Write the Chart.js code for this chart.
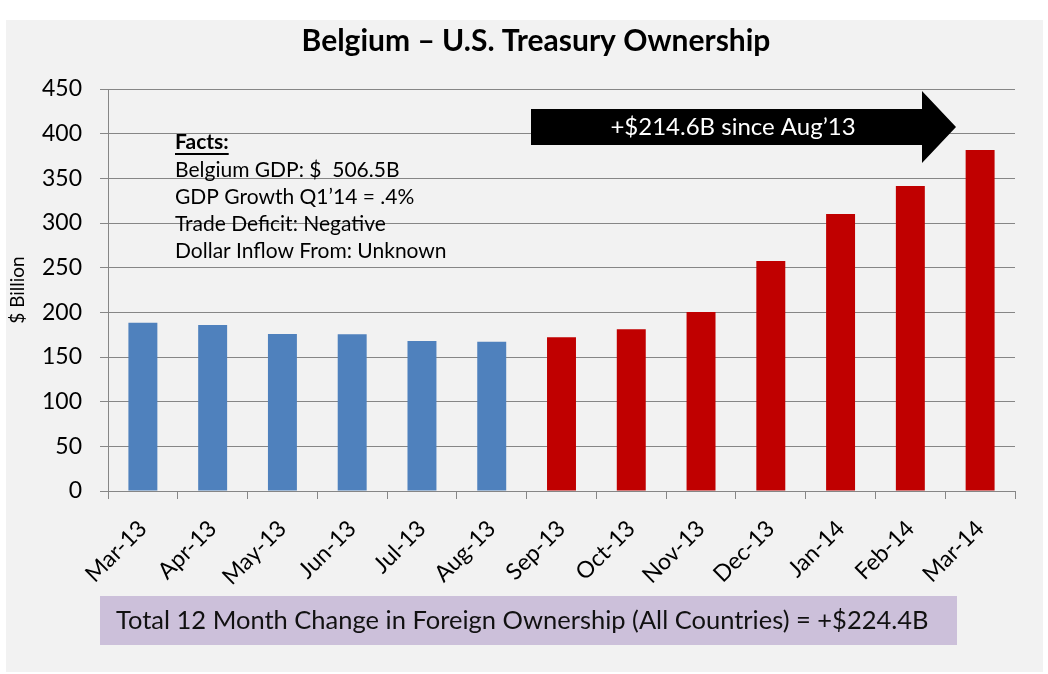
<!DOCTYPE html>
<html>
<head>
<meta charset="utf-8">
<title>Belgium – U.S. Treasury Ownership</title>
<script src="https://cdn.jsdelivr.net/npm/chart.js@4.4.1/dist/chart.umd.min.js"></script>
<style>
  html, body { margin: 0; padding: 0; background: #ffffff; }
  #wrap { position: relative; width: 1048px; height: 674px; }
</style>
</head>
<body>
<div id="wrap"><canvas id="treasuryChart"></canvas></div>
<script>
// Holdings of U.S. Treasuries by Belgium ($ Billion)
const months = ['Mar-13', 'Apr-13', 'May-13', 'Jun-13', 'Jul-13', 'Aug-13',
                'Sep-13', 'Oct-13', 'Nov-13', 'Dec-13', 'Jan-14', 'Feb-14', 'Mar-14'];
const holdings = [188.4, 185.8, 175.8, 175.6, 168.0, 167.1,
                  172.2, 181.0, 200.3, 257.5, 310.0, 341.4, 381.7];
const yTicks = [0, 50, 100, 150, 200, 250, 300, 350, 400, 450];
const baseMonth = 'Aug-13';

const titleText = 'Belgium \u2013 U.S. Treasury Ownership';
const factLines = ['Belgium GDP: $  506.5B', 'GDP Growth Q1\u201914 = .4%',
                   'Trade Deficit: Negative', 'Dollar Inflow From: Unknown'];
const arrowLabel = '+$214.6B since Aug\u201913';
const footerLabel = 'Total 12 Month Change in Foreign Ownership (All Countries) = +$224.4B';

const COLORS = {
  panel: '#f2f2f2',
  before: '#4f81bd',
  after: '#c00000',
  grid: '#868686',
  text: '#000000',
  footer: '#ccc0da'
};
const FONT = "Lato, 'Open Sans', sans-serif";

Chart.defaults.font.family = FONT;
Chart.defaults.color = COLORS.text;

var baseIndex = months.indexOf(baseMonth);

// gray slide panel behind everything
const panelPlugin = {
  id: 'panel',
  beforeDraw(chart) {
    const ctx = chart.ctx;
    ctx.save();
    ctx.fillStyle = COLORS.panel;
    ctx.fillRect(6, 20, 1037, 652);
    ctx.restore();
  }
};

// title, facts box, arrow callout and footer bar
const notesPlugin = {
  id: 'notes',
  afterDraw(chart) {
    const ctx = chart.ctx;
    ctx.save();
    ctx.textBaseline = 'middle';

    // Title
    ctx.fillStyle = COLORS.text;
    ctx.textAlign = 'center';
    ctx.font = 'bold 30px ' + FONT;
    ctx.fillText(titleText, 536, 41);

    // Facts
    ctx.textAlign = 'left';
    ctx.font = 'bold 21px ' + FONT;
    ctx.fillText('Facts:', 175, 142);
    var w = ctx.measureText('Facts:').width;
    ctx.fillRect(175, 153, w, 2);
    ctx.font = '21px ' + FONT;
    factLines.forEach(function(line, i) {
      ctx.fillText(line, 175, 170 + i * 27.2);
    });

    // Arrow
    ctx.fillStyle = '#000000';
    ctx.beginPath();
    ctx.moveTo(531, 109);
    ctx.lineTo(922, 109);
    ctx.lineTo(922, 91);
    ctx.lineTo(956, 127);
    ctx.lineTo(922, 163);
    ctx.lineTo(922, 145);
    ctx.lineTo(531, 145);
    ctx.closePath();
    ctx.fill();
    ctx.fillStyle = '#ffffff';
    ctx.font = '24px ' + FONT;
    ctx.textAlign = 'center';
    ctx.fillText(arrowLabel, 733, 127);

    // Footer
    ctx.fillStyle = COLORS.footer;
    ctx.fillRect(100, 596, 857, 49);
    ctx.fillStyle = '#111111';
    ctx.textAlign = 'left';
    ctx.font = '25.5px ' + FONT;
    ctx.fillText(footerLabel, 116, 621);

    ctx.restore();
  }
};

var ctx = document.getElementById('treasuryChart').getContext('2d');
new Chart(ctx, {
  type: 'bar',
  data: {
    labels: months,
    datasets: [{
      label: 'Treasury Holdings',
      data: holdings,
      backgroundColor: function(c) {
        return c.dataIndex <= baseIndex ? COLORS.before : COLORS.after;
      },
      barPercentage: 0.415,
      categoryPercentage: 1.0
    }]
  },
  options: {
    responsive: true,
    maintainAspectRatio: false,
    animation: false,
    layout: { padding: { left: 0, right: 33, top: 89, bottom: 83 } },
    plugins: {
      legend: { display: false },
      tooltip: { enabled: false },
      title: { display: false }
    },
    scales: {
      x: {
        afterFit: function(axis) { axis.height = 100; },
        grid: {
          offset: true,
          drawOnChartArea: false,
          drawTicks: true,
          tickLength: 8,
          color: COLORS.grid
        },
        border: { color: COLORS.grid },
        ticks: {
          minRotation: 45,
          maxRotation: 45,
          padding: 16,
          autoSkip: false,
          font: { size: 23 },
          color: COLORS.text
        }
      },
      y: {
        min: 0,
        max: 450,
        afterFit: function(axis) { axis.width = 108; },
        afterBuildTicks: function(axis) {
          axis.ticks = yTicks.map(function(v) { return { value: v }; });
        },
        grid: { color: COLORS.grid, tickLength: 8 },
        border: { color: COLORS.grid },
        ticks: {
          padding: 18,
          font: { size: 23 },
          color: COLORS.text
        },
        title: {
          display: true,
          text: '$ Billion',
          font: { size: 19 },
          color: COLORS.text,
          padding: { top: 6, bottom: 0 }
        }
      }
    }
  },
  plugins: [panelPlugin, notesPlugin]
});
</script>
</body>
</html>
